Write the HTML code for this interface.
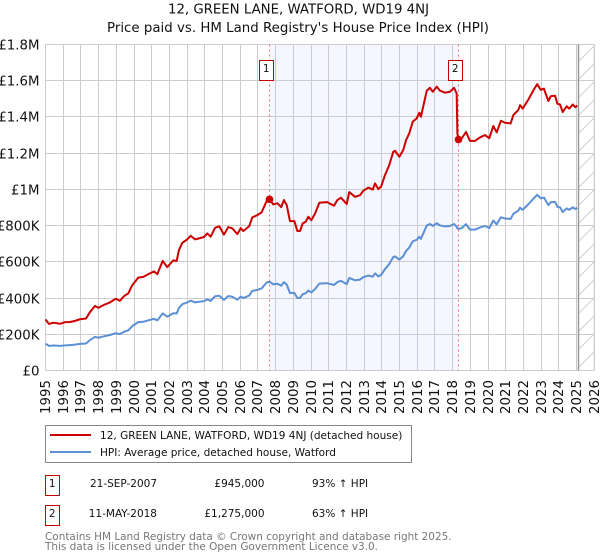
<!DOCTYPE html>
<html>
<head>
<meta charset="utf-8">
<title>12, GREEN LANE, WATFORD, WD19 4NJ</title>
<style>
html,body{margin:0;padding:0;background:#fff;width:600px;height:560px;overflow:hidden}
svg{display:block}
text{font-family:"DejaVu Sans","Liberation Sans",sans-serif;fill:#111}
</style>
</head>
<body>
<svg id="chart" xmlns="http://www.w3.org/2000/svg" width="600" height="560" viewBox="0 0 600 560">
<defs>
<pattern id="hatch" width="18" height="18" patternUnits="userSpaceOnUse" patternTransform="translate(578 44)">
<path d="M-2 20 L20 -2 M-2 2 L2 -2 M16 20 L20 16" stroke="#cfcfcf" stroke-width="1" fill="none"/>
</pattern>
</defs>
<text x="298.5" y="13.5" font-size="13.33" text-anchor="middle" textLength="261">12, GREEN LANE, WATFORD, WD19 4NJ</text>
<text x="298" y="32" font-size="13.33" text-anchor="middle" textLength="382">Price paid vs. HM Land Registry's House Price Index (HPI)</text>
<g id="shade"></g>
<g id="grid"></g>
<g id="xticks"></g>
<g id="yticks"></g>
<g id="series"></g>
<g id="sales"></g>

<g>
<rect x="45.5" y="425.5" width="366" height="37" fill="#fff" stroke="#888" stroke-width="1"/>
<line x1="50" x2="91" y1="435" y2="435" stroke="#cc0000" stroke-width="2"/>
<text x="100" y="439" font-size="10.53">12, GREEN LANE, WATFORD, WD19 4NJ (detached house)</text>
<line x1="50" x2="91" y1="452" y2="452" stroke="#5b8fd6" stroke-width="2"/>
<text x="100" y="456" font-size="10.53">HPI: Average price, detached house, Watford</text>
</g>

<g>
<rect x="45.5" y="475.5" width="14" height="20" fill="#fff" stroke="#c00000" stroke-width="1"/>
<text x="52.2" y="487" font-size="10.5" text-anchor="middle">1</text>
<text x="157" y="487" font-size="10.5" text-anchor="end">21-SEP-2007</text>
<text x="264.5" y="487" font-size="10.5" text-anchor="end">£945,000</text>
<text x="312" y="487" font-size="10.5">93% ↑ HPI</text>
<rect x="45.5" y="505.5" width="14" height="20" fill="#fff" stroke="#c00000" stroke-width="1"/>
<text x="52.2" y="517" font-size="10.5" text-anchor="middle">2</text>
<text x="157" y="517" font-size="10.5" text-anchor="end">11-MAY-2018</text>
<text x="264.5" y="517" font-size="10.5" text-anchor="end">£1,275,000</text>
<text x="312" y="517" font-size="10.5">63% ↑ HPI</text>
</g>

<text x="45" y="540" font-size="10.46" style="fill:#777">Contains HM Land Registry data © Crown copyright and database right 2025.</text>
<text x="45" y="550" font-size="10.46" style="fill:#777">This data is licensed under the Open Government Licence v3.0.</text>
</svg>

<script>
const yearTicks = [1995,1996,1997,1998,1999,2000,2001,2002,2003,2004,2005,2006,2007,2008,2009,2010,2011,2012,2013,2014,2015,2016,2017,2018,2019,2020,2021,2022,2023,2024,2025,2026];
const valueTicks = [0,200,400,600,800,1000,1200,1400,1600,1800];
const valueTickLabels = ["£0","£200K","£400K","£600K","£800K","£1M","£1.2M","£1.4M","£1.6M","£1.8M"];

const dates = [
1995.00,1995.20,1995.44,1995.82,1996.10,1996.38,1996.67,1996.95,1997.29,1997.51,
1997.80,1997.98,1998.27,1998.64,1998.97,1999.20,1999.44,1999.68,1999.90,2000.24,
2000.53,2000.81,2001.13,2001.32,2001.47,2001.62,2001.88,2002.22,2002.41,2002.54,
2002.73,2003.01,2003.20,2003.45,2003.73,2003.95,2004.14,2004.33,2004.58,2004.82,
2005.08,2005.33,2005.55,2005.84,2006.03,2006.18,2006.51,2006.68,2006.93,2007.21,
2007.50,2007.66,2007.87,2008.10,2008.32,2008.47,2008.63,2008.81,2009.06,2009.23,
2009.38,2009.53,2009.70,2009.85,2010.02,2010.23,2010.47,2010.70,2010.92,2011.07,
2011.30,2011.49,2011.69,2012.02,2012.16,2012.49,2012.77,2012.95,2013.24,2013.49,
2013.62,2013.80,2013.96,2014.18,2014.42,2014.65,2014.75,2014.99,2015.21,2015.37,
2015.55,2015.75,2015.97,2016.12,2016.21,2016.38,2016.54,2016.72,2016.88,2017.10,
2017.29,2017.57,2017.85,2018.08,2018.23,2018.27,2018.33,2018.51,2018.76,2018.98,
2019.27,2019.55,2019.83,2020.07,2020.30,2020.49,2020.73,2020.96,2021.28,2021.43,
2021.71,2021.81,2021.96,2022.28,2022.56,2022.78,2022.98,2023.16,2023.41,2023.54,
2023.79,2023.92,2024.07,2024.22,2024.45,2024.59,2024.79,2024.92,2025.05
];
const pricePaidSeries = [
282,257,264,258,267,268,274,283,287,322,
357,346,361,376,396,385,411,426,471,513,
517,532,547,532,569,605,571,608,605,665,
705,724,744,724,731,737,757,739,788,796,
750,792,785,753,786,770,797,845,856,873,
937,945,917,923,902,941,913,825,825,770,
770,812,821,849,830,867,926,928,930,921,
910,941,954,919,985,959,968,992,1010,999,
1033,1002,1015,1079,1134,1208,1213,1180,1217,1272,
1309,1374,1392,1423,1401,1475,1545,1561,1539,1567,
1545,1534,1539,1561,1530,1309,1275,1281,1317,1268,
1268,1287,1300,1283,1350,1315,1379,1368,1364,1410,
1438,1465,1446,1496,1546,1581,1550,1556,1488,1514,
1517,1473,1469,1427,1459,1446,1469,1454,1462
];
const hpiSeries = [
148,136,138,136,139,140,143,147,149,168,
186,181,188,196,206,201,214,222,245,267,
269,277,285,277,296,315,297,316,315,345,
366,376,386,376,380,383,393,384,410,413,
390,411,407,391,408,400,414,439,444,453,
486,490,476,479,468,488,474,428,428,400,
400,421,426,441,431,450,480,481,482,478,
472,488,495,477,511,498,502,515,524,518,
536,520,527,560,588,627,630,612,631,660,
679,713,722,738,727,765,801,809,798,813,
801,796,798,809,794,785,782,786,808,778,
778,790,798,787,828,807,846,839,837,865,
882,899,887,918,948,970,951,955,913,929,
931,904,901,875,895,887,901,892,897
];
const saleDates = [2007.66,2018.33];
const salePrices = [945,1275];
const saleLabels = ["1","2"];
const dataEndDate = 2025.1;

const NS = "http://www.w3.org/2000/svg";
const xLeft = 45.5, xPerYear = 17.7, yZero = 370.5, yPerK = 326 / 1800;
const yTop = yZero - 1800 * yPerK;
function xScale(t){ return xLeft + (t - 1995) * xPerYear; }
function yScale(v){ return yZero - v * yPerK; }
function snap(p){ return Math.floor(p) + 0.5; }
function node(tag, parentId, attrs){
  const el = document.createElementNS(NS, tag);
  for (const k in attrs) el.setAttribute(k, attrs[k]);
  document.getElementById(parentId).appendChild(el);
  return el;
}
const xRight = xScale(yearTicks[yearTicks.length - 1]);

/* shaded period between the two sales */
const shadeRect = node("rect", "shade", {x: snap(xScale(saleDates[0])), y: snap(yTop), width: snap(xScale(saleDates[1])) - snap(xScale(saleDates[0])), height: yZero - snap(yTop), fill: "#f4f7ff"});



/* projected / no data hatch */
const hatchRect = node("rect", "shade", {x: snap(xScale(dataEndDate)), y: snap(yTop), width: xRight - snap(xScale(dataEndDate)), height: yZero - snap(yTop), fill: "url(#hatch)"});



/* grid + x labels */
yearTicks.forEach(function(yr){
  const px = snap(xScale(yr));
  const g = node("line", "grid", {x1: px, x2: px, y1: snap(yTop), y2: yZero, stroke: "#cccccc", "stroke-width": 1});
  
  
  const t = node("text", "xticks", {x: px + 4.5, y: 414, "font-size": 13.33, transform: "rotate(-90 " + (px + 4.5) + " 414)"});
  
  
  t.textContent = String(yr);
});
/* grid + y labels */
valueTicks.forEach(function(v, i){
  const py = snap(yScale(v));
  const g = node("line", "grid", {x1: snap(xLeft), x2: xRight, y1: py, y2: py, stroke: "#cccccc", "stroke-width": 1});
  
  
  const t = node("text", "yticks", {x: 39.5, y: py + 5, "font-size": 13.33, "text-anchor": "end"});
  
  
  t.textContent = valueTickLabels[i];
});
const rightEdge = node("line", "grid", {x1: xRight, x2: xRight, y1: snap(yTop), y2: yZero, stroke: "#cccccc", "stroke-width": 1});



const endLine = node("line", "grid", {x1: snap(xScale(dataEndDate)), x2: snap(xScale(dataEndDate)), y1: snap(yTop), y2: yZero, stroke: "#999999", "stroke-width": 1.5});



/* sale guide lines */
saleDates.forEach(function(d){
  const px = snap(xScale(d));
  const l = node("line", "grid", {x1: px, x2: px, y1: snap(yTop), y2: yZero, stroke: "#f0707a", "stroke-width": 1, "stroke-dasharray": "2 3"});
  
  
});

/* series */
function linePath(values){
  return values.map(function(v, i){
    return (i ? "L" : "M") + xScale(dates[i]).toFixed(2) + " " + yScale(v).toFixed(2);
  }).join(" ");
}
const hpiLine = node("path", "series", {d: linePath(hpiSeries), fill: "none", stroke: "#5b8fd6", "stroke-width": 2, "stroke-linejoin": "round"});


const priceLine = node("path", "series", {d: linePath(pricePaidSeries), fill: "none", stroke: "#cc0000", "stroke-width": 2, "stroke-linejoin": "round"});



/* sale markers + numbered boxes */
saleDates.forEach(function(d, i){
  const px = snap(xScale(d));
  const c = node("circle", "sales", {cx: px, cy: yScale(salePrices[i]), r: 3.8, fill: "#cc0000"});
  
  
  const b = node("rect", "sales", {x: px - 10, y: 60.5, width: 14, height: 20, fill: "#fff", stroke: "#c00000", "stroke-width": 1});
  
  
  const t = node("text", "sales", {x: px - 3.3, y: 72, "font-size": 10.5, "text-anchor": "middle"});
  
  
  t.textContent = saleLabels[i];
});
</script>
</body>
</html>
